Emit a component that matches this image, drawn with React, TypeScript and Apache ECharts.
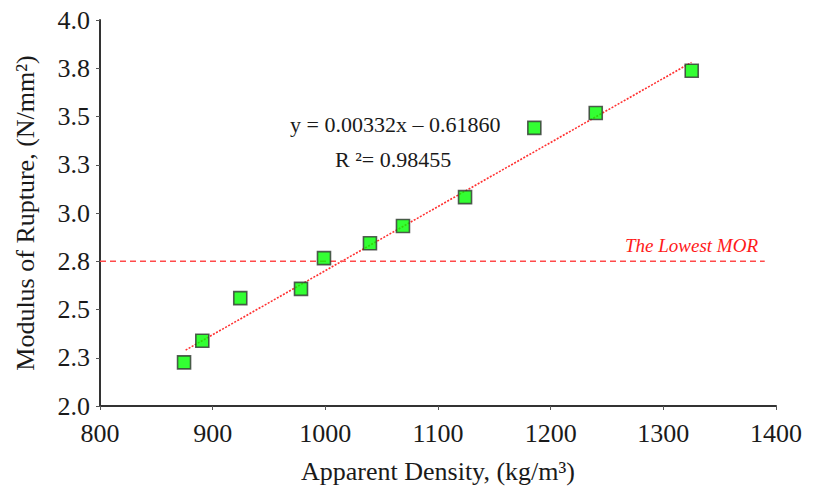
import React, { useEffect, useRef } from "react";
import * as echarts from "echarts";

const densities = [874.6, 890.8, 924.5, 978.4, 998.8, 1039.6, 1068.9, 1124.0, 1185.5, 1240.0, 1325.2];
const morValues = [2.226, 2.338, 2.559, 2.607, 2.766, 2.843, 2.933, 3.082, 3.441, 3.518, 3.737];
const yTickLabels = ["2.0", "2.3", "2.5", "2.8", "3.0", "3.3", "3.5", "3.8", "4.0"];
const xTickLabels = ["800", "900", "1000", "1100", "1200", "1300", "1400"];
const trendSlope = 0.00332;
const trendIntercept = -0.6186;
const trendRangeX = [876, 1325];
const lowestMor = 2.75;
const lowestMorRangeX = [800, 1390];
const equationText = "y = 0.00332x – 0.61860";
const r2Text = "R ²= 0.98455";
const lowestMorLabel = "The Lowest MOR";

const FONT = "'Liberation Serif', 'Times New Roman', serif";

export default function App() {
  const ref = useRef<HTMLDivElement>(null);
  useEffect(() => {
    if (!ref.current) return;
    const chart = echarts.init(ref.current, undefined, { renderer: "svg" });
    const trendData = trendRangeX.map((x) => [x, trendSlope * x + trendIntercept]);
    const option = {
      animation: false,
      backgroundColor: "#ffffff",
      grid: { left: 100, right: 40, top: 20, bottom: 79 },
      xAxis: {
        type: "value",
        min: 800,
        max: 1400,
        interval: 100,
        name: "Apparent Density, (kg/m³)",
        nameLocation: "middle",
        nameGap: 52,
        nameTextStyle: { fontFamily: FONT, fontSize: 26, color: "#1a1a1a" },
        axisLine: { show: true, lineStyle: { color: "#333", width: 2 } },
        axisTick: { show: true, length: 4, lineStyle: { color: "#555", width: 1 } },
        axisLabel: {
          fontFamily: FONT,
          fontSize: 26,
          color: "#1a1a1a",
          margin: 14,
          formatter: (v: number) => xTickLabels[Math.round((v - 800) / 100)] ?? "",
        },
        splitLine: { show: false },
      },
      yAxis: {
        type: "value",
        min: 2,
        max: 4,
        interval: 0.25,
        name: "Modulus of Rupture, (N/mm²)",
        nameLocation: "middle",
        nameGap: 62,
        nameTextStyle: { fontFamily: FONT, fontSize: 26, color: "#1a1a1a" },
        axisLine: { show: true, lineStyle: { color: "#333", width: 2 } },
        axisTick: { show: true, length: 4, lineStyle: { color: "#555", width: 1 } },
        axisLabel: {
          fontFamily: FONT,
          fontSize: 26,
          color: "#1a1a1a",
          margin: 10,
          formatter: (v: number) => yTickLabels[Math.round((v - 2) / 0.25)] ?? "",
        },
        splitLine: { show: false },
      },
      series: [
        {
          type: "line",
          data: trendData,
          symbol: "none",
          lineStyle: { color: "#ff3030", width: 1.6, type: [2, 1.5] },
          z: 2,
          silent: true,
        },
        {
          type: "line",
          data: lowestMorRangeX.map((x) => [x, lowestMor]),
          symbol: "none",
          lineStyle: { color: "#ff4a4a", width: 1.3, type: [6, 4] },
          z: 2,
          silent: true,
        },
        {
          type: "scatter",
          data: densities.map((d, i) => [d, morValues[i]]),
          symbol: "rect",
          symbolSize: 13,
          itemStyle: { color: "#00ff00", borderColor: "#333", borderWidth: 1.6 },
          z: 3,
        },
      ],
      graphic: [
        {
          type: "text",
          left: 290,
          top: 113,
          style: { text: equationText, font: `22px ${FONT}`, fill: "#1a1a1a" },
        },
        {
          type: "text",
          left: 335,
          top: 148,
          style: { text: r2Text, font: `22px ${FONT}`, fill: "#1a1a1a" },
        },
        {
          type: "text",
          right: 58,
          top: 236,
          style: { text: lowestMorLabel, font: `italic 19px ${FONT}`, fill: "#ff1a1a" },
        },
      ],
    };
    chart.setOption(option as any);
    return () => chart.dispose();
  }, []);
  return (
    <div
      ref={ref}
      style={{ position: "absolute", left: 0, top: 0, width: 816, height: 489 }}
    />
  );
}
